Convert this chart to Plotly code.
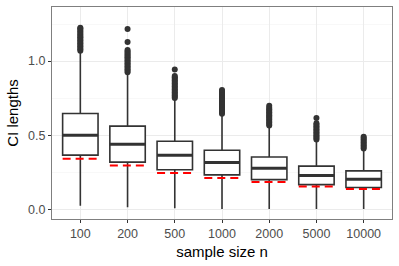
import plotly.graph_objects as go

categories = ["100", "200", "500", "1000", "2000", "5000", "10000"]
q1 = [0.365, 0.318, 0.266, 0.232, 0.200, 0.166, 0.147]
median = [0.500, 0.439, 0.365, 0.315, 0.277, 0.228, 0.203]
q3 = [0.646, 0.561, 0.459, 0.398, 0.353, 0.291, 0.259]
lower_whisker = [0.024, 0.013, 0.006, 0.002, 0.001, 0.001, 0.001]
upper_whisker = [1.065, 0.920, 0.745, 0.640, 0.560, 0.465, 0.405]
theory = [0.340, 0.295, 0.245, 0.211, 0.184, 0.154, 0.137]

outliers = [
    [1.07, 1.08, 1.09, 1.10, 1.11, 1.12, 1.13, 1.14, 1.15, 1.16, 1.17, 1.18, 1.19, 1.20, 1.21, 1.22, 1.225],
    [0.925, 0.935, 0.945, 0.955, 0.965, 0.975, 0.985, 0.995, 1.005, 1.015, 1.025, 1.035, 1.045, 1.055, 1.065, 1.075, 1.128, 1.216],
    [0.75, 0.76, 0.77, 0.78, 0.79, 0.80, 0.81, 0.82, 0.83, 0.84, 0.85, 0.86, 0.87, 0.88, 0.89, 0.90, 0.943],
    [0.645, 0.655, 0.665, 0.675, 0.685, 0.695, 0.705, 0.715, 0.725, 0.735, 0.745, 0.755, 0.765, 0.775, 0.785, 0.795, 0.805],
    [0.565, 0.575, 0.585, 0.595, 0.605, 0.615, 0.625, 0.635, 0.645, 0.655, 0.665, 0.675, 0.685, 0.698],
    [0.47, 0.48, 0.49, 0.50, 0.51, 0.52, 0.53, 0.54, 0.55, 0.56, 0.57, 0.58, 0.615],
    [0.41, 0.42, 0.43, 0.44, 0.45, 0.46, 0.47, 0.48, 0.49],
]

y_ticks = [0.0, 0.5, 1.0]
y_tick_labels = ["0.0", "0.5", "1.0"]

DARK = "#333333"
HALF = 0.375

fig = go.Figure()
for i, cat in enumerate(categories):
    fig.add_trace(go.Box(
        x=[i], q1=[q1[i]], median=[median[i]], q3=[q3[i]],
        lowerfence=[lower_whisker[i]], upperfence=[upper_whisker[i]],
        width=2 * HALF, whiskerwidth=0, fillcolor="white",
        line=dict(color=DARK, width=1.6), boxpoints=False,
        showlegend=False, hoverinfo="skip",
    ))
    fig.add_trace(go.Scatter(
        x=[i - HALF, i + HALF], y=[median[i], median[i]], mode="lines",
        line=dict(color=DARK, width=3), showlegend=False, hoverinfo="skip",
    ))
    fig.add_trace(go.Scatter(
        x=[i] * len(outliers[i]), y=outliers[i], mode="markers",
        marker=dict(color=DARK, size=6), showlegend=False, hoverinfo="skip",
    ))
    fig.add_trace(go.Scatter(
        x=[i - HALF, i + HALF], y=[theory[i], theory[i]], mode="lines",
        line=dict(color="#FF0000", width=2, dash="8px,5px"),
        showlegend=False, hoverinfo="skip",
    ))

fig.update_layout(
    width=399, height=266,
    margin=dict(l=52, r=7, t=7, b=47, autoexpand=False),
    paper_bgcolor="white", plot_bgcolor="white",
    font=dict(family="Liberation Sans, Arial, sans-serif", color="#4d4d4d", size=12.5),
    xaxis=dict(
        range=[-0.6, 6.6], tickvals=list(range(len(categories))), ticktext=categories,
        showgrid=True, gridcolor="#EBEBEB", gridwidth=1, zeroline=False,
        showline=True, linecolor="#7f7f7f", linewidth=1, mirror=True, automargin=False,
        ticks="outside", ticklen=3, tickcolor=DARK, tickfont=dict(size=12.5, color="#4d4d4d"),
        title=dict(text="sample size n", font=dict(size=15, color="black"), standoff=6),
    ),
    yaxis=dict(
        range=[-0.066, 1.365], tickvals=y_ticks, ticktext=y_tick_labels,
        showgrid=True, gridcolor="#EBEBEB", gridwidth=1, zeroline=False,
        minor=dict(tickvals=[0.25, 0.75, 1.25], showgrid=True, gridcolor="#F3F3F3", gridwidth=0.6, ticks=""),
        showline=True, linecolor="#7f7f7f", linewidth=1, mirror=True, automargin=False,
        ticks="outside", ticklen=3, tickcolor=DARK, tickfont=dict(size=12.5, color="#4d4d4d"),
        title=dict(text="CI lengths", font=dict(size=15, color="black"), standoff=5),
    ),
)

fig.write_html(
    "out.html",
    config={"displayModeBar": False, "staticPlot": True},
    post_script="document.body.style.margin='0';document.body.style.overflow='hidden';",
)
